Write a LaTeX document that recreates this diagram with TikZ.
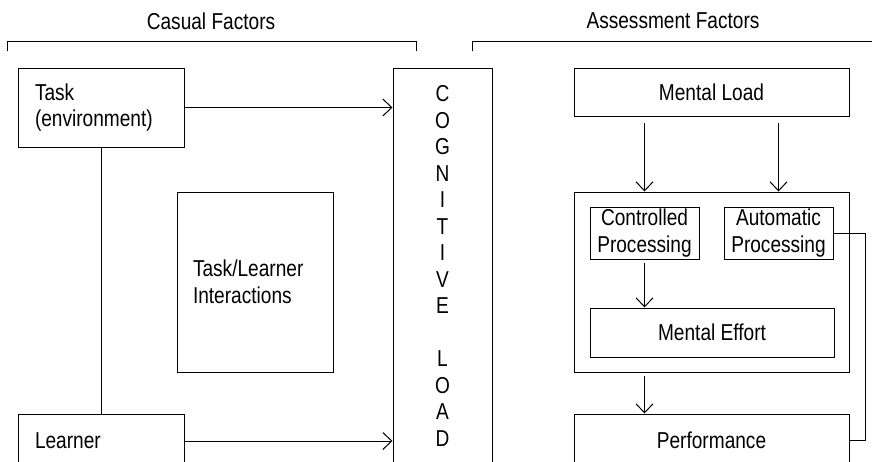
\documentclass[tikz,border=0pt]{standalone}
\usepackage{fontspec}
\setmainfont{Liberation Sans}[FakeStretch=0.83]
\usetikzlibrary{arrows.meta}
\tikzset{
  box/.style={draw, line width=1pt, inner sep=0pt, font=\fontsize{23}{26.5}\selectfont},
  lbox/.style={box, align=left, inner xsep=17pt},
  arr/.style={line width=1pt, -{Straight Barb[length=9pt,width=17pt,line width=1pt]}},
  ln/.style={line width=1pt},
  title/.style={font=\fontsize{23}{26.5}\selectfont, inner sep=0pt}
}
\begin{document}
\begin{tikzpicture}[x=1pt,y=-1pt]
\clip (0,0) rectangle (872,461);
\fill[white] (0,0) rectangle (872,461);
% titles
\node[title] (tcasual) at (211,21) {Casual Factors};
\node[title] (tassess) at (673,21) {Assessment Factors};
\draw[ln] (7,51) |- (416,41) -- (416,51);
\draw[ln] (472,51) |- (880,41);
% left side
\node[lbox, text width=132pt, minimum height=79pt] (task) at (101,107.5) {Task\\(environment)};
\node[lbox, text width=132pt, minimum height=54pt] (learner) at (101,441) {Learner};
\node[box, align=left, inner xsep=16pt, text width=124pt, minimum height=180pt] (inter) at (255,282) {Task/Learner\\Interactions};
\node[box, minimum width=99pt, minimum height=396pt, align=center,
      font=\fontsize{23}{26.5}\selectfont] (cog) at (442.5,266)
  {C\\O\\G\\N\\I\\T\\I\\V\\E\\[26.5pt]L\\O\\A\\D};
\draw[ln] (task.south) -- (learner.north);
\draw[arr] (task.east) -- (task.east -| cog.west);
\draw[arr] (learner.east) -- (learner.east -| cog.west);
% right side
\node[box, minimum width=275pt, minimum height=48pt] (mload) at (711.5,92) {Mental Load};
\node[box, minimum width=275pt, minimum height=180pt] (big) at (711.5,282) {};
\node[box, minimum width=109pt, minimum height=52pt, align=center] (ctrl) at (644.5,233) {Controlled\\Processing};
\node[box, minimum width=109pt, minimum height=52pt, align=center] (auto) at (778.5,233) {Automatic\\Processing};
\node[box, minimum width=244pt, minimum height=49pt] (effort) at (712,332.5) {Mental Effort};
\node[box, minimum width=275pt, minimum height=52pt] (perf) at (711.5,440) {Performance};
\draw[arr] ([yshift=-6pt]mload.south -| ctrl.south) -- (big.north -| ctrl.south);
\draw[arr] ([yshift=-6pt]mload.south -| auto.south) -- (big.north -| auto.south);
\draw[arr] ([yshift=-3pt]ctrl.south) -- (effort.north -| ctrl.south);
\draw[arr] ([yshift=-3pt]big.south -| ctrl.south) -- (perf.north -| ctrl.south);
\draw[ln] (auto.east) -- ++(32,0) |- (perf.east);
\end{tikzpicture}
\end{document}
